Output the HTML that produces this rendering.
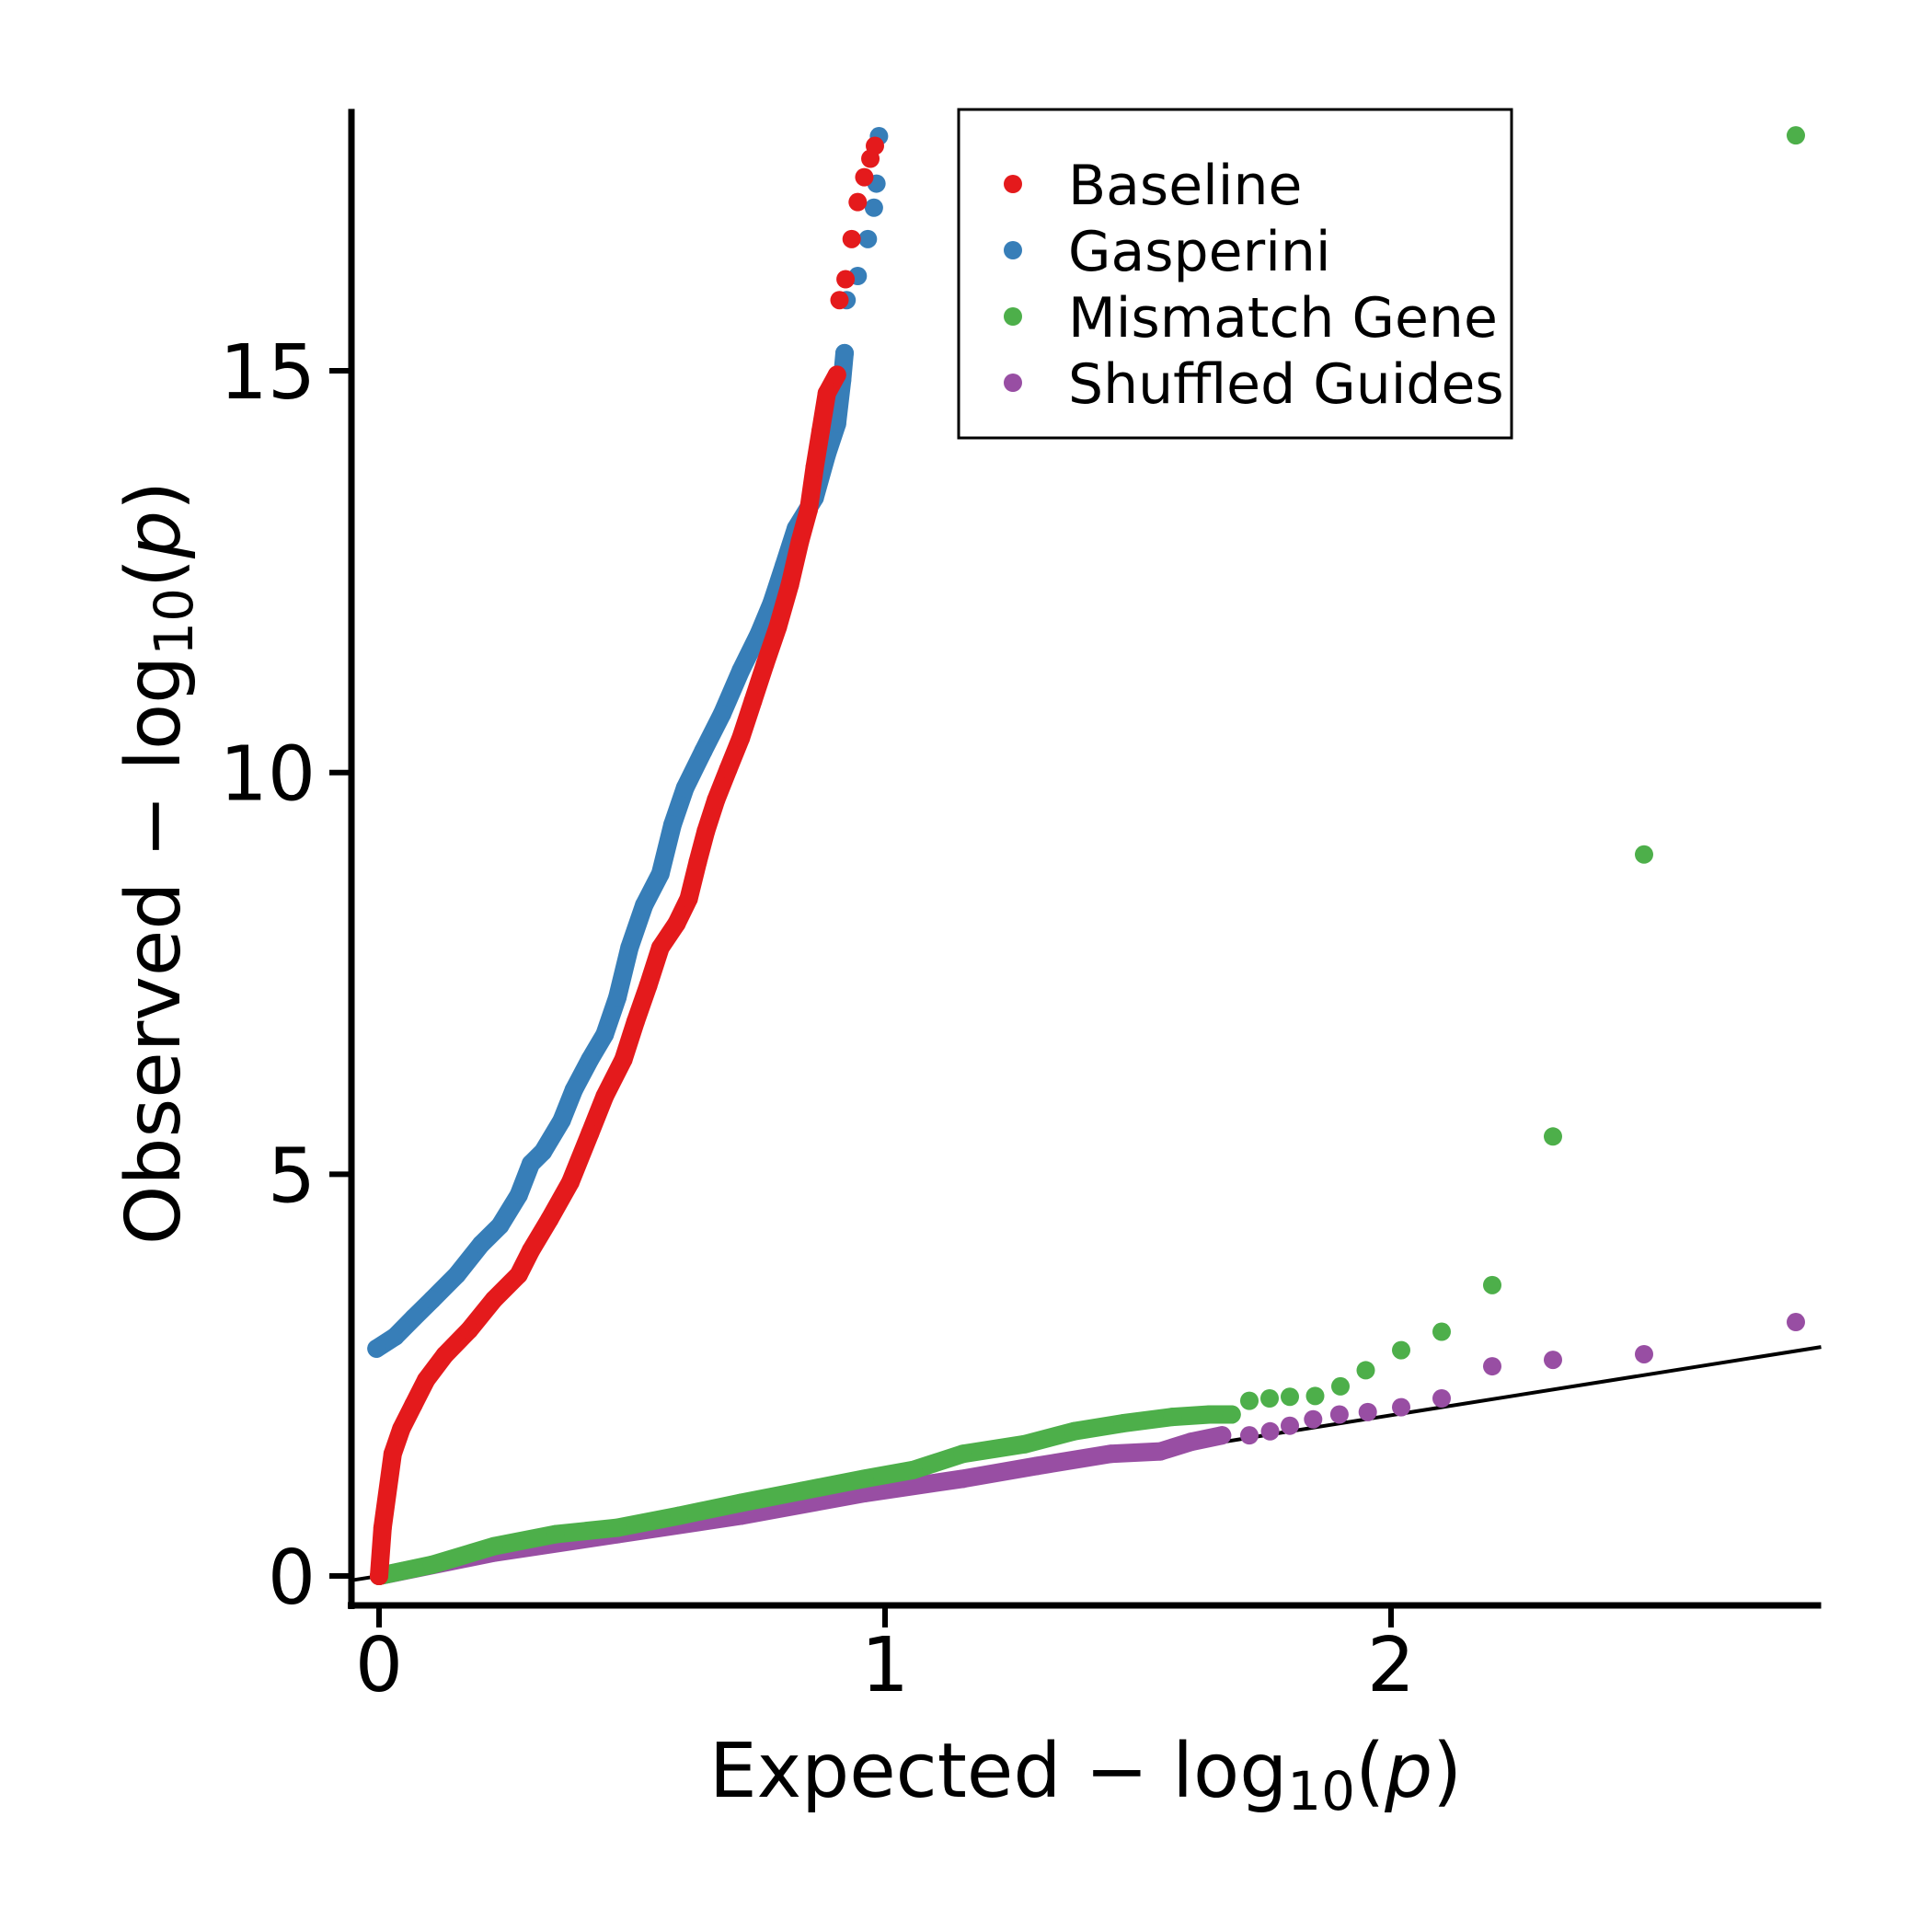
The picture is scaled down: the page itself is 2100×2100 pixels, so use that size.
<!DOCTYPE html>
<html><head><meta charset="utf-8"><style>
html,body{margin:0;padding:0;background:#fff}
svg{display:block}
text{font-family:"DejaVu Sans","Liberation Sans",sans-serif}
</style></head><body>
<svg id="chart" width="2100" height="2100" viewBox="0 0 2100 2100">
<g id="marks"></g>
<g id="axes"></g>
<g>
<rect x="1042" y="119" width="601" height="357" fill="#fff" stroke="#000" stroke-width="3"/>
<circle cx="1101" cy="200" r="10" fill="#e41a1c"/>
<text x="1161" y="222" font-size="60">Baseline</text>
<circle cx="1101" cy="272" r="10" fill="#377eb8"/>
<text x="1161" y="294" font-size="60">Gasperini</text>
<circle cx="1101" cy="344" r="10" fill="#4daf4a"/>
<text x="1161" y="366" font-size="60">Mismatch Gene</text>
<circle cx="1101" cy="416" r="10" fill="#984ea3"/>
<text x="1161" y="438" font-size="60">Shuffled Guides</text>
</g>
<text x="1180" y="1953" font-size="82" text-anchor="middle">Expected − log<tspan font-size="58" dy="14">10</tspan><tspan dy="-14">(</tspan><tspan font-style="italic">p</tspan>)</text>
<text transform="translate(195,938) rotate(-90)" font-size="82" text-anchor="middle">Observed − log<tspan font-size="58" dy="14">10</tspan><tspan dy="-14">(</tspan><tspan font-style="italic">p</tspan>)</text>
</svg>
<script>
const xTicks=[0,1,2];
const yTicks=[0,5,10,15];
const baselineX=[0,.007,.027,.044,.068,.093,.13,.178,.227,.276,.30,.337,.378,.417,.446,.483,.507,.532,.556,.588,.612,.63,.646,.666,.69,.715,.739,.763,.788,.812,.832,.849,.861,.873,.885,.905,.91,.922,.934,.946,.959,.971,.98];
const baselineY=[0,.6,1.52,1.83,2.13,2.44,2.75,3.06,3.44,3.75,4.05,4.44,4.9,5.51,5.97,6.43,6.9,7.35,7.82,8.12,8.43,8.89,9.27,9.66,10.04,10.43,10.89,11.35,11.81,12.34,12.88,13.27,13.8,14.26,14.72,14.95,15.88,16.14,16.64,17.1,17.41,17.64,17.8];
const gasperiniX=[-.005,.032,.068,.105,.154,.202,.239,.276,.30,.324,.361,.385,.417,.446,.471,.495,.524,.556,.58,.605,.641,.678,.715,.751,.776,.8,.824,.861,.885,.905,.915,.92,.924,.946,.966,.978,.983,.988];
const gasperiniY=[2.83,2.98,3.21,3.44,3.75,4.13,4.36,4.74,5.13,5.28,5.67,6.05,6.43,6.74,7.2,7.82,8.35,8.74,9.35,9.81,10.27,10.73,11.27,11.73,12.11,12.57,13.04,13.42,13.96,14.34,14.88,15.22,15.88,16.18,16.64,17.03,17.33,17.92];
const mismatchX=[0,.105,.227,.349,.471,.593,.715,.837,.959,1.056,1.154,1.276,1.373,1.47,1.568,1.641,1.685,1.72,1.76,1.80,1.85,1.90,1.95,2.02,2.10,2.20,2.32,2.50,2.80];
const mismatchY=[0,.14,.37,.52,.6,.75,.91,1.06,1.21,1.32,1.52,1.64,1.8,1.9,1.98,2.01,2.01,2.18,2.21,2.23,2.24,2.36,2.56,2.81,3.04,3.62,5.47,8.98,17.93];
const shuffledX=[0,.227,.471,.715,.959,1.154,1.3,1.446,1.544,1.605,1.666,1.72,1.761,1.80,1.846,1.898,1.954,2.02,2.10,2.20,2.32,2.50,2.80];
const shuffledY=[0,.29,.52,.75,1.03,1.21,1.37,1.52,1.55,1.67,1.75,1.75,1.8,1.87,1.95,2.01,2.04,2.1,2.21,2.61,2.69,2.76,3.16];

const NS='http://www.w3.org/2000/svg';
const X0=412,XS=550,Y0=1713,YS=87.33;
const sx=v=>X0+v*XS, sy=v=>Y0-v*YS;
const xMin=-0.055,xMax=2.85,yTop=18.26;
function mk(tag,attrs,parent){const e=document.createElementNS(NS,tag);for(const k in attrs)e.setAttribute(k,attrs[k]);parent.appendChild(e);return e;}
const marks=document.getElementById('marks'), axes=document.getElementById('axes');

const ref=mk('line',{x1:sx(xMin),y1:sy(xMin),x2:sx(xMax),y2:sy(xMax),stroke:'#000','stroke-width':4},marks);



function drawSeries(xs,ys,color,name,denseLimit){
  const g=mk('g',{},marks);
  
  
  const pts=[];
  for(let i=0;i<xs.length;i++){ if(xs[i]<=denseLimit) pts.push(sx(xs[i])+','+sy(ys[i])); }
  const pl=mk('polyline',{points:pts.join(' '),fill:'none',stroke:color,'stroke-width':20,'stroke-linecap':'round','stroke-linejoin':'round'},g);
  
  
  for(let i=0;i<xs.length;i++){
    const c=mk('circle',{cx:sx(xs[i]),cy:sy(ys[i]),r:10,fill:color},g);
    
    
  }
}
drawSeries(shuffledX,shuffledY,'#984ea3','shuffled-guides',1.70);
drawSeries(mismatchX,mismatchY,'#4daf4a','mismatch-gene',1.70);
drawSeries(gasperiniX,gasperiniY,'#377eb8','gasperini',0.92);
drawSeries(baselineX,baselineY,'#e41a1c','baseline',0.905);

const ysp=mk('line',{x1:382,y1:sy(yTop),x2:382,y2:1749,stroke:'#000','stroke-width':7},axes);


const xsp=mk('line',{x1:378,y1:1745,x2:sx(xMax),y2:1745,stroke:'#000','stroke-width':7},axes);


xTicks.forEach(t=>{
  const l=mk('line',{x1:sx(t),y1:1745,x2:sx(t),y2:1769,stroke:'#000','stroke-width':6},axes);
  
  
  const tx=mk('text',{x:sx(t),y:1838,'font-size':82,'text-anchor':'middle'},axes);
  tx.textContent=String(t);
  
  
});
yTicks.forEach(t=>{
  const l=mk('line',{x1:358,y1:sy(t),x2:382,y2:sy(t),stroke:'#000','stroke-width':6},axes);
  
  
  const tx=mk('text',{x:343,y:sy(t)+30,'font-size':82,'text-anchor':'end'},axes);
  tx.textContent=String(t);
  
  
});
</script>
</body></html>
